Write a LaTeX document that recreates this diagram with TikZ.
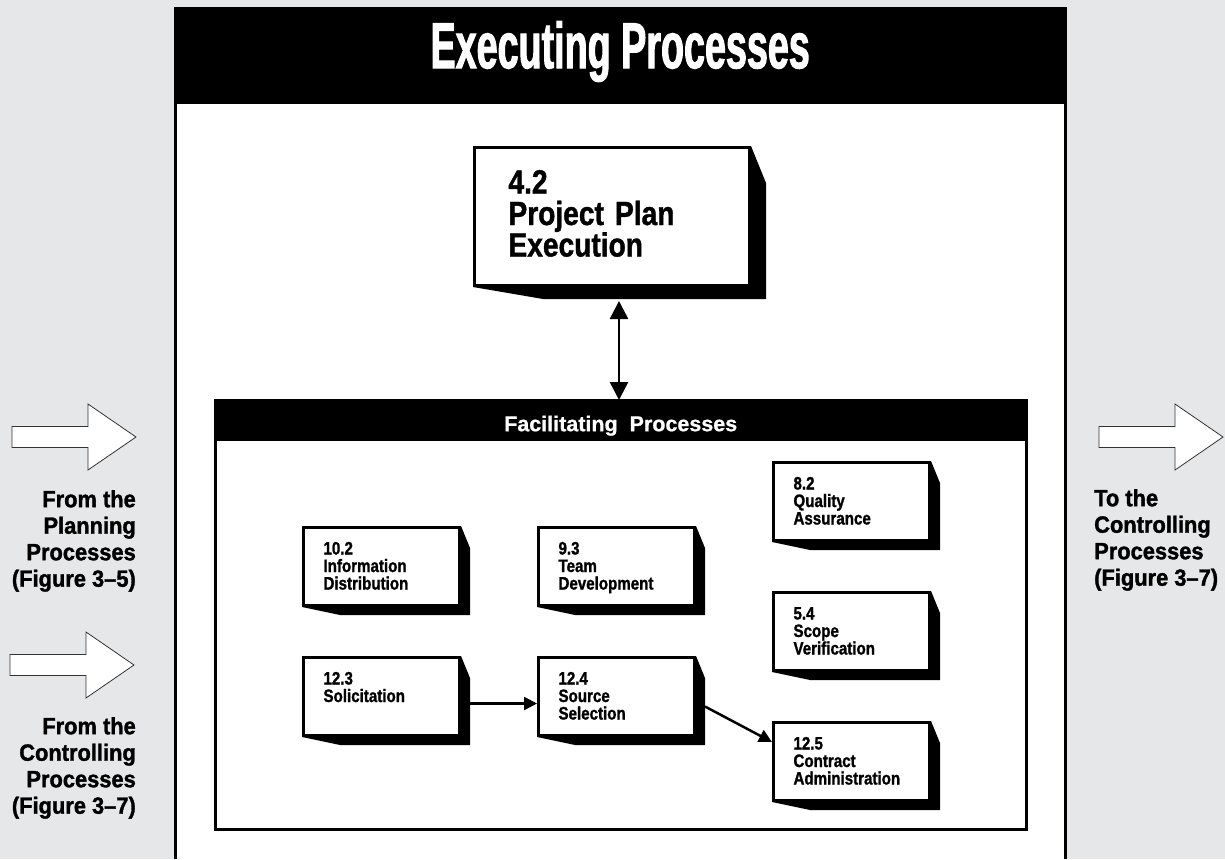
\documentclass[tikz,border=0pt]{standalone}
\usepackage{fontspec}
\setmainfont{Liberation Sans}[FakeStretch=0.84, FakeBold=1.2]
\newfontfamily\titlefont{Liberation Sans}[FakeStretch=0.58, FakeBold=1.5]
\newfontfamily\headfont{Liberation Sans}[FakeBold=0.8]
\newfontfamily\labelfont{Liberation Sans}[FakeStretch=0.93, FakeBold=1.4]
\usetikzlibrary{arrows.meta}
\definecolor{bggray}{RGB}{230,231,232}

\begin{document}
\begin{tikzpicture}[
		x=1pt, y=-1pt,
		procbox/.style={draw, line width=3pt, fill=white, anchor=north west,
				inner xsep=20pt, inner ysep=14pt, text width=116pt, align=left,
				text height=13pt, text depth=37pt,
				font=\bfseries\fontsize{18}{17.5}\selectfont},
		bigbox/.style={procbox, inner xsep=34pt, inner ysep=22pt, text width=207pt,
				text height=24pt, text depth=70pt,
				font=\bfseries\fontsize{33.5}{31.5}\selectfont},
		sidelabel/.style={inner sep=0pt, font=\labelfont\bfseries\fontsize{23.5}{26.5}\selectfont},
		hollow/.style={draw=black!80, line width=0.8pt, fill=white},
		conn/.style={line width=2.5pt}
	]
	\useasboundingbox (0,0) rectangle (1225,859);
	\fill[bggray] (0,0) rectangle (1225,859);

	% executing panel
	\fill[white] (175,9) rectangle (1065,859);
	\node[fill=black, text=white, anchor=north west, minimum width=890pt, minimum height=95pt,
		inner sep=0pt, text height=47pt, text depth=24pt,
		font=\titlefont\bfseries\fontsize{65}{65}\selectfont] (title) at (175,9) {Executing Processes};
	\draw[line width=3pt] (175,859) |- (1065,9) -- (1065,859);

	% facilitating panel
	\draw[line width=3pt, fill=white] (215,400) rectangle (1026,829);
	\node[fill=black, text=white, anchor=north west, minimum width=811pt, minimum height=41pt,
		inner sep=0pt, text height=21pt, text depth=0pt,
		font=\headfont\bfseries\fontsize{21.5}{21.5}\selectfont] (facil) at (215,400) {Facilitating\ \ Processes};

	% processes
	\node[bigbox] (plan) at (473,146) {4.2\\Project Plan\\Execution};
	\node[procbox] (info) at (302,526) {10.2\\Information\\Distribution};
	\node[procbox] (team) at (537,526) {9.3\\Team\\Development};
	\node[procbox] (qa) at (772,461) {8.2\\Quality\\Assurance};
	\node[procbox] (scope) at (772,591) {5.4\\Scope\\Verification};
	\node[procbox] (solic) at (302,656) {12.3\\Solicitation};
	\node[procbox] (source) at (537,656) {12.4\\Source\\Selection};
	\node[procbox] (contract) at (772,721) {12.5\\Contract\\Administration};

	% shadows
	\fill (plan.north east) -- ++(15,37) -- ([shift={(15,12)}]plan.south east)
		-- ([shift={(70,12)}]plan.south west) -- (plan.south west) -- (plan.south east) -- cycle;
	\foreach \n in {info,team,qa,scope,solic,source,contract}
		\fill (\n.north east) -- ++(9,22) -- ([shift={(9,8)}]\n.south east)
			-- ([shift={(38,8)}]\n.south west) -- (\n.south west) -- (\n.south east) -- cycle;

	% connectors
	\draw[conn, {Triangle[length=18pt,width=18pt]}-{Triangle[length=18pt,width=18pt]}]
		([shift={(7,14)}]plan.south) -- ([xshift=7pt]plan.south |- facil.north);
	\draw[conn, -{Triangle[length=13pt,width=13pt]}]
		([shift={(9,7)}]solic.east) -- ([shift={(0,7)}]source.west);
	\draw[conn, -{Triangle[length=13pt,width=13pt]}]
		([shift={(9,10)}]source.east) -- ([shift={(0,21)}]contract.north west);

	% outside arrows
	\foreach \x/\y in {12/437, 10/665, 1099/437}
		\draw[hollow] (\x,{\y-10.5}) -- ++(76,0) -- ++(0,-22.5) -- ++(48,33)
			-- ++(-48,33) -- ++(0,-22.5) -- ++(-76,0) -- cycle;

	\node[sidelabel, anchor=north east, align=right] (fromplan) at (136,490)
		{From the\\Planning\\Processes\\(Figure 3–5)};
	\node[sidelabel, anchor=north east, align=right] (fromctrl) at (136,717)
		{From the\\Controlling\\Processes\\(Figure 3–7)};
	\node[sidelabel, anchor=north west, align=left] (toctrl) at (1094,489)
		{To the\\Controlling\\Processes\\(Figure 3–7)};
\end{tikzpicture}
\end{document}
